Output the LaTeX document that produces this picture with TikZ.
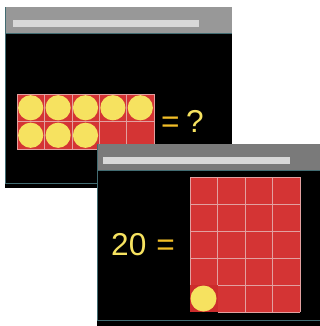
\documentclass[tikz,border=0pt]{standalone}
\usepackage{fontspec}
\setsansfont{Liberation Sans}
\usetikzlibrary{positioning}
\definecolor{frameRed}{RGB}{212,52,52}
\definecolor{cornerRed}{RGB}{204,44,44}
\definecolor{dotYellow}{RGB}{246,226,96}
\definecolor{eqOrange}{RGB}{242,190,40}
\definecolor{gridLine}{RGB}{226,160,160}
\definecolor{barGray}{RGB}{152,152,152}
\definecolor{barDark}{RGB}{122,122,122}
\definecolor{barLight}{RGB}{216,216,216}
\definecolor{edgeTeal}{RGB}{66,108,114}
\tikzset{
  screen/.style={fill=black},
  slot/.style={fill=barLight},
  edgeline/.style={draw=edgeTeal, line width=0.5pt},
  cell/.style={fill=frameRed, draw=gridLine, line width=0.5pt},
  gridrule/.style={draw=gridLine, line width=0.5pt},
  dot/.style={fill=dotYellow},
  mathtext/.style={font=\sffamily\fontsize{27}{27}\selectfont, text=dotYellow, inner sep=0pt}
}
\begin{document}
\begin{tikzpicture}[x=0.03cm, y=-0.03cm]
\useasboundingbox[fill=white] (0,0) rectangle (320,326);

% Window 1
\fill[screen] (5,7) rectangle (232,188);
\fill[barGray] (5,7) rectangle (232,33);
\fill[slot] (13,20) rectangle (199,27);
\draw[edgeline] (5,33) -- (232,33);
\draw[edgeline] (5,183) -- (232,183);
\draw[edgeline] (5,7) -- (5,183);

\foreach \c in {0,...,4}
  \foreach \r in {0,1}
    \draw[cell] ({17+27.4*\c},{94+27.5*\r}) rectangle +(27.4,27.5);
\foreach \c/\r in {0/0,1/0,2/0,3/0,4/0,0/1,1/1,2/1}
  \fill[dot] ({30.7+27.4*\c},{107.75+27.5*\r}) circle[radius=0.378cm];

\node[mathtext, text=eqOrange, anchor=base west] (eq1) at (161,132) {=};
\node[mathtext, anchor=base west] (ask) at ([xshift=5pt]eq1.base east) {?};

% Window 2
\fill[screen] (97,144) rectangle (320,326);
\fill[barDark] (97,144) rectangle (320,170);
\fill[slot] (103,157) rectangle (290,164);
\draw[edgeline] (97,170) -- (320,170);
\draw[edgeline] (97,320) -- (320,320);
\draw[edgeline] (97,144) -- (97,320);

\fill[frameRed] (190,177) rectangle (300,312);
\fill[cornerRed] (190,285) rectangle (217.5,312);
\foreach \y in {177,204,231,258}
  \draw[gridrule] (190,\y) -- (300,\y);
\foreach \y in {285,312}
  \draw[gridrule] (217.5,\y) -- (300,\y);
\foreach \x in {245,272.5,300}
  \draw[gridrule] (\x,177) -- (\x,312);
\foreach \x in {190,217.5}
  \draw[gridrule] (\x,177) -- (\x,285);
\fill[dot] (203.5,298.5) circle[radius=0.39cm];

\node[mathtext, anchor=base west] (twenty) at (111,255) {20};
\node[mathtext, text=eqOrange, anchor=base west] (eq2) at ([xshift=8pt]twenty.base east) {=};
\end{tikzpicture}
\end{document}
